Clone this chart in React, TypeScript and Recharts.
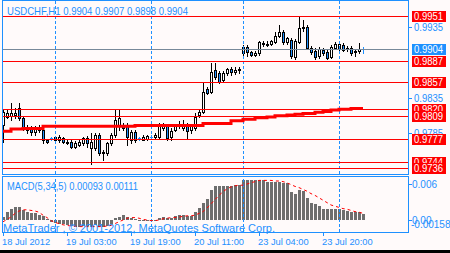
import React from 'react';
import { ComposedChart, Bar, Line, XAxis, YAxis, ReferenceLine } from 'recharts';

const symbolTitle = 'USDCHF,H1 0.9904 0.9907 0.9898 0.9904';
const macdTitle = 'MACD(5,34,5) 0.00093 0.00111';
const copyright = 'MetaTrader , \u00A9 2001-2012, MetaQuotes Software Corp.';

// H1 bars, 18 Jul 2012 11:00 .. 24 Jul 2012 05:00 (bar index)
const opens = [
  0.9797, 0.9808, 0.9810, 0.9811, 0.9821, 0.9807, 0.9790, 0.9794, 0.9787, 0.9790,
  0.9790, 0.9776, 0.9778, 0.9780, 0.9776, 0.9778, 0.9773, 0.9773, 0.9766, 0.9769,
  0.9772, 0.9778, 0.9764, 0.9764, 0.9783, 0.9757, 0.9757, 0.9771, 0.9783, 0.9795,
  0.9797, 0.9797, 0.9776, 0.9787, 0.9778, 0.9776, 0.9777, 0.9780, 0.9780, 0.9780,
  0.9793, 0.9796, 0.9780, 0.9790, 0.9795, 0.9793, 0.9797, 0.9790, 0.9793, 0.9811,
  0.9815, 0.9848, 0.9844, 0.9875, 0.9870, 0.9860, 0.9870, 0.9876, 0.9872, 0.9874,
  0.9899, 0.9907, 0.9900, 0.9896, 0.9898, 0.9913, 0.9910, 0.9911, 0.9914, 0.9923,
  0.9928, 0.9914, 0.9917, 0.9893, 0.9914, 0.9934, 0.9935, 0.9906, 0.9902, 0.9894,
  0.9903, 0.9900, 0.9893, 0.9906, 0.9906, 0.9910, 0.9904, 0.9906, 0.9900, 0.9902,
  0.9904,
];
const highs = [
  0.9818, 0.9818, 0.9828, 0.9821, 0.9828, 0.9808, 0.9797, 0.9796, 0.9796, 0.9797,
  0.9793, 0.9777, 0.9780, 0.9781, 0.9783, 0.9780, 0.9775, 0.9775, 0.9774, 0.9775,
  0.9780, 0.9781, 0.9786, 0.9786, 0.9785, 0.9762, 0.9773, 0.9786, 0.9818, 0.9818,
  0.9800, 0.9800, 0.9790, 0.9790, 0.9780, 0.9782, 0.9783, 0.9782, 0.9786, 0.9800,
  0.9800, 0.9797, 0.9793, 0.9797, 0.9802, 0.9804, 0.9800, 0.9797, 0.9814, 0.9818,
  0.9858, 0.9850, 0.9885, 0.9885, 0.9873, 0.9873, 0.9877, 0.9879, 0.9879, 0.9879,
  0.9910, 0.9910, 0.9902, 0.9902, 0.9916, 0.9916, 0.9915, 0.9917, 0.9928, 0.9938,
  0.9931, 0.9922, 0.9920, 0.9918, 0.9950, 0.9945, 0.9938, 0.9908, 0.9906, 0.9907,
  0.9906, 0.9905, 0.9910, 0.9914, 0.9914, 0.9913, 0.9909, 0.9908, 0.9905, 0.9913,
  0.9907,
];
const lows = [
  0.9773, 0.9807, 0.9804, 0.9807, 0.9804, 0.9790, 0.9786, 0.9783, 0.9783, 0.9787,
  0.9771, 0.9772, 0.9776, 0.9775, 0.9773, 0.9771, 0.9770, 0.9764, 0.9764, 0.9767,
  0.9769, 0.9766, 0.9742, 0.9762, 0.9755, 0.9747, 0.9755, 0.9769, 0.9780, 0.9790,
  0.9790, 0.9769, 0.9771, 0.9773, 0.9776, 0.9775, 0.9776, 0.9778, 0.9778, 0.9778,
  0.9790, 0.9776, 0.9776, 0.9789, 0.9793, 0.9790, 0.9778, 0.9786, 0.9790, 0.9808,
  0.9814, 0.9840, 0.9842, 0.9862, 0.9856, 0.9858, 0.9868, 0.9868, 0.9869, 0.9870,
  0.9896, 0.9894, 0.9894, 0.9894, 0.9896, 0.9909, 0.9908, 0.9910, 0.9913, 0.9922,
  0.9911, 0.9912, 0.9892, 0.9890, 0.9913, 0.9930, 0.9904, 0.9897, 0.9890, 0.9892,
  0.9896, 0.9890, 0.9892, 0.9904, 0.9903, 0.9901, 0.9901, 0.9896, 0.9895, 0.9899,
  0.9898,
];
const closes = [
  0.9815, 0.9814, 0.9814, 0.9814, 0.9807, 0.9794, 0.9794, 0.9787, 0.9793, 0.9794,
  0.9776, 0.9773, 0.9778, 0.9776, 0.9780, 0.9773, 0.9771, 0.9766, 0.9772, 0.9773,
  0.9778, 0.9771, 0.9773, 0.9783, 0.9757, 0.9759, 0.9771, 0.9783, 0.9804, 0.9807,
  0.9793, 0.9780, 0.9787, 0.9776, 0.9778, 0.9780, 0.9781, 0.9780, 0.9783, 0.9795,
  0.9797, 0.9779, 0.9789, 0.9795, 0.9797, 0.9797, 0.9788, 0.9795, 0.9808, 0.9815,
  0.9843, 0.9842, 0.9872, 0.9865, 0.9858, 0.9870, 0.9876, 0.9872, 0.9875, 0.9876,
  0.9907, 0.9900, 0.9896, 0.9899, 0.9914, 0.9911, 0.9912, 0.9915, 0.9923, 0.9928,
  0.9914, 0.9920, 0.9894, 0.9916, 0.9934, 0.9936, 0.9906, 0.9900, 0.9893, 0.9904,
  0.9899, 0.9892, 0.9907, 0.9911, 0.9911, 0.9903, 0.9906, 0.9899, 0.9902, 0.9904,
  0.9904,
];
const maValues = [
  0.9788, 0.9788, 0.9791, 0.9791, 0.9791, 0.9792, 0.9792, 0.9792, 0.9792, 0.9792,
  0.9795, 0.9795, 0.9795, 0.9795, 0.9795, 0.9795, 0.9795, 0.9795, 0.9795, 0.9795,
  0.9795, 0.9795, 0.9795, 0.9795, 0.9795, 0.9795, 0.9795, 0.9795, 0.9795, 0.9795,
  0.9795, 0.9795, 0.9795, 0.9796, 0.9796, 0.9796, 0.9796, 0.9796, 0.9796, 0.9796,
  0.9796, 0.9796, 0.9796, 0.9796, 0.9796, 0.9796, 0.9796, 0.9796, 0.9796, 0.9796,
  0.9799, 0.9799, 0.9799, 0.9799, 0.9799, 0.9799, 0.9799, 0.9803, 0.9803, 0.9803,
  0.9805, 0.9805, 0.9805, 0.9807, 0.9807, 0.9807, 0.9808, 0.9808, 0.9810, 0.9810,
  0.9810, 0.9811, 0.9811, 0.9812, 0.9812, 0.9813, 0.9813, 0.9813, 0.9815, 0.9815,
  0.9816, 0.9816, 0.9818, 0.9818, 0.9819, 0.9819, 0.9819, 0.9820, 0.9820, 0.9820,
  0.9820,
];
const macdHist = [
  0.00045, 0.0014, 0.0018, 0.0021, 0.0022, 0.0017, 0.0014, 0.0012, 0.0011, 0.0008,
  0.0006, 0.0001, -0.0003, -0.0005, -0.0006, -0.0007, -0.0008, -0.0010, -0.0011, -0.0011,
  -0.0010, -0.0010, -0.0011, -0.0009, -0.0011, -0.0012, -0.0010, -0.0007, 0.0003, 0.0005,
  0.0008, 0.0005, 0.0004, 0.0001, -0.0001, -0.0002, -0.0002, -0.0002, -0.0001, 0.0004,
  0.0005, 0.0004, 0.0004, 0.0006, 0.0008, 0.0008, 0.0006, 0.0007, 0.0014, 0.0020,
  0.0028, 0.0035, 0.0050, 0.0056, 0.0056, 0.0056, 0.0057, 0.0057, 0.0058, 0.0059,
  0.0066, 0.0066, 0.0066, 0.0066, 0.0066, 0.0066, 0.0064, 0.0064, 0.0064, 0.0064,
  0.0061, 0.0061, 0.0047, 0.0044, 0.0050, 0.0049, 0.0036, 0.0028, 0.0026, 0.0023,
  0.0019, 0.0018, 0.0019, 0.0018, 0.0018, 0.0017, 0.0015, 0.0014, 0.0014, 0.0013,
  0.00093,
];
const macdSignal = [
  -0.0003, 0.0001, 0.0005, 0.0011, 0.0015, 0.0017, 0.0017, 0.0016, 0.0015, 0.0013,
  0.0008, 0.0004, -0.0001, -0.0004, -0.0006, -0.0008, -0.0009, -0.0010, -0.0010, -0.0011,
  -0.0011, -0.0011, -0.0011, -0.0011, -0.0011, -0.0011, -0.0010, -0.0009, -0.0006, -0.0003,
  0.0000, 0.0003, 0.0004, 0.0004, 0.0003, 0.0001, 0.0000, -0.0001, -0.0001, 0.0000,
  0.0002, 0.0003, 0.0004, 0.0004, 0.0005, 0.0006, 0.0007, 0.0007, 0.0008, 0.0011,
  0.0014, 0.0020, 0.0027, 0.0034, 0.0041, 0.0047, 0.0052, 0.0055, 0.0057, 0.0058,
  0.0058, 0.0060, 0.0062, 0.0064, 0.0066, 0.0066, 0.0066, 0.0066, 0.0065, 0.0065,
  0.0064, 0.0062, 0.0059, 0.0056, 0.0054, 0.0051, 0.0048, 0.0044, 0.0041, 0.0037,
  0.0033, 0.0029, 0.0025, 0.0023, 0.0021, 0.0019, 0.0018, 0.0016, 0.0014, 0.0013,
  0.00111,
];

const levelPrices = [0.9951, 0.9887, 0.9857, 0.9820, 0.9809, 0.9777, 0.9744, 0.9736];
const bidPrice = 0.9904;
const priceGridTicks = [0.9935, 0.9835, 0.9785];
const macdTicks = [0.006, 0, -0.00158];
const macdTickLabels = ['0.006', '0.00', '-0.00158'];
const timeTickBars = [0, 16, 32, 48, 64, 80];
const timeTickLabels = ['18 Jul 2012', '19 Jul 03:00', '19 Jul 19:00', '20 Jul 11:00', '23 Jul 04:00', '23 Jul 20:00'];
const daySeparators = [13, 37, 60, 84];

const BLUE = '#1E90FF';
const RED = '#FF0000';
const SNOW = '#FFFAFA';
const FONT = '"Liberation Sans", Arial, sans-serif';
const X_DOMAIN: [number, number] = [-0.25, 101.25];
const PRICE_DOMAIN: [number, number] = [0.972752, 0.997222];
const MACD_DOMAIN: [number, number] = [-0.002, 0.0073333];

function CrispLine(props: any) {
  const { x1, y1, x2, y2, stroke, strokeDasharray } = props;
  if (Math.abs(x1 - x2) < 0.01) {
    const x = Math.round(x1) + 0.5;
    return <line x1={x} x2={x} y1={y1} y2={y2} stroke={stroke} strokeDasharray={strokeDasharray} />;
  }
  const y = Math.round(y1) + 0.5;
  return <line x1={x1} x2={x2} y1={y} y2={y} stroke={stroke} strokeDasharray={strokeDasharray} />;
}

function Candle(props: any) {
  const { x, y, width, height, payload } = props;
  if (!payload || x == null) return null;
  const { open, close, high, low } = payload;
  const top = Math.min(y, y + height);
  const bot = Math.max(y, y + height);
  const span = high - low || 1e-9;
  const toY = (v: number) => top + ((high - v) / span) * (bot - top);
  const c = Math.round(x + width / 2);
  const rT = Math.round(top);
  const rB = Math.round(bot);
  if (open === close) {
    const yo = Math.round(toY(open)) + 0.5;
    return (
      <g>
        <line x1={c + 0.5} x2={c + 0.5} y1={rT} y2={rB + 1} stroke={BLUE} />
        <line x1={c - 1} x2={c + 2} y1={yo} y2={yo} stroke={BLUE} />
      </g>
    );
  }
  const bull = close > open;
  const yO = Math.round(toY(open));
  const yC = Math.round(toY(close));
  const bT = Math.min(yO, yC) + 0.5;
  const bB = Math.max(yO, yC) + 0.5;
  return (
    <g>
      <line x1={c + 0.5} x2={c + 0.5} y1={rT} y2={rB + 1} stroke="#000" />
      <rect x={c - 0.5} y={bT} width={2} height={Math.max(bB - bT, 1)} fill={bull ? '#FFFFFF' : BLUE} stroke="#000" />
    </g>
  );
}

function HistBar(props: any) {
  const { x, y, width, height } = props;
  if (x == null || y == null) return null;
  const c = Math.round(x + width / 2);
  const t = Math.round(Math.min(y, y + height));
  const b = Math.round(Math.max(y, y + height));
  if (b - t < 1) return null;
  return <rect x={c - 1} y={t} width={3} height={b - t} fill="#6E6E6E" />;
}

function PriceAxisTick(props: any) {
  const { x, y, payload } = props;
  const v = payload.value;
  const yy = Math.round(y);
  if (priceGridTicks.indexOf(v) >= 0) {
    return (
      <g>
        <line x1={x} x2={x + 4} y1={yy + 0.5} y2={yy + 0.5} stroke={BLUE} />
        <text x={x + 6} y={yy + 4} fill={BLUE} fontSize={10} fontFamily={FONT} textLength={29} lengthAdjust="spacingAndGlyphs">
          {v.toFixed(4)}
        </text>
      </g>
    );
  }
  const isBid = v === bidPrice;
  return (
    <g>
      <rect x={x + 4} y={yy - 5} width={34} height={11} fill={isBid ? BLUE : RED} />
      <text x={x + 6} y={yy + 4} fill="#FFFFFF" fontSize={10} fontFamily={FONT} textLength={29} lengthAdjust="spacingAndGlyphs">
        {v.toFixed(4)}
      </text>
    </g>
  );
}

function MacdAxisTick(props: any) {
  const { x, y, payload } = props;
  const v = payload.value;
  const idx = macdTicks.indexOf(v);
  const label = macdTickLabels[idx] ?? '';
  const yy = Math.round(y);
  if (v < 0) {
    return (
      <text x={x + 3} y={yy - 1} fill={BLUE} fontSize={10} fontFamily={FONT}>
        {label}
      </text>
    );
  }
  return (
    <g>
      <line x1={x} x2={x + 4} y1={yy + 0.5} y2={yy + 0.5} stroke={BLUE} />
      <text x={x + 4} y={yy + 4} fill={BLUE} fontSize={10} fontFamily={FONT}>
        {label}
      </text>
    </g>
  );
}

function TimeTick(props: any) {
  const { x, y, payload } = props;
  const idx = timeTickBars.indexOf(payload.value);
  const label = timeTickLabels[idx] ?? '';
  const xx = Math.round(x);
  return (
    <g>
      <line x1={xx + 0.5} x2={xx + 0.5} y1={y} y2={y + 4} stroke={BLUE} />
      <text x={xx - 1} y={y + 13} fill={BLUE} fontSize={9.3} fontFamily={FONT}>
        {label}
      </text>
    </g>
  );
}

export default function App() {
  const candleData = opens.map((o, i) => ({
    i,
    open: o,
    high: highs[i],
    low: lows[i],
    close: closes[i],
    ma: maValues[i],
  }));
  const macdData = macdHist.map((m, i) => ({ i, macd: m, signal: macdSignal[i] }));

  return (
    <div style={{ position: 'fixed', left: 0, top: 0, width: 450, height: 253, background: SNOW, overflow: 'hidden' }}>
      <div style={{ position: 'absolute', left: 0, top: 0 }}>
        <ComposedChart width={450} height={174} data={candleData} margin={{ top: 1, right: 0, bottom: 0, left: 2 }}>
          <XAxis type="number" dataKey="i" domain={X_DOMAIN} hide allowDataOverflow />
          <YAxis
            type="number"
            orientation="right"
            width={42}
            domain={PRICE_DOMAIN}
            allowDataOverflow
            ticks={[...priceGridTicks, ...levelPrices, bidPrice]}
            interval={0}
            tick={(p: any) => <PriceAxisTick {...p} />}
            tickLine={false}
            axisLine={false}
            tickSize={0}
            tickMargin={0}
          />
          {daySeparators.map((d) => (
            <ReferenceLine key={'sep' + d} x={d} stroke={BLUE} strokeDasharray="3 2" shape={(p: any) => <CrispLine {...p} />} />
          ))}
          <ReferenceLine y={bidPrice} stroke="#778899" shape={(p: any) => <CrispLine {...p} />} />
          {levelPrices.map((p) => (
            <ReferenceLine key={'lvl' + p} y={p} stroke={RED} shape={(pp: any) => <CrispLine {...pp} />} />
          ))}
          <Bar
            dataKey={(d: any) => [d.low, d.high]}
            barSize={3}
            shape={(p: any) => <Candle {...p} />}
            isAnimationActive={false}
          />
          <Line dataKey="ma" type="stepAfter" stroke={RED} strokeWidth={3} dot={false} isAnimationActive={false} />
        </ComposedChart>
      </div>
      <div style={{ position: 'absolute', left: 0, top: 175 }}>
        <ComposedChart width={450} height={78} data={macdData} margin={{ top: 1, right: 0, bottom: 0, left: 2 }}>
          <XAxis
            type="number"
            dataKey="i"
            domain={X_DOMAIN}
            allowDataOverflow
            ticks={timeTickBars}
            interval={0}
            height={21}
            tick={(p: any) => <TimeTick {...p} />}
            tickLine={false}
            axisLine={false}
            tickSize={0}
            tickMargin={0}
          />
          <YAxis
            type="number"
            orientation="right"
            width={42}
            domain={MACD_DOMAIN}
            allowDataOverflow
            ticks={macdTicks}
            interval={0}
            tick={(p: any) => <MacdAxisTick {...p} />}
            tickLine={false}
            axisLine={false}
            tickSize={0}
            tickMargin={0}
          />
          {daySeparators.map((d) => (
            <ReferenceLine key={'msep' + d} x={d} stroke={BLUE} strokeDasharray="3 2" shape={(p: any) => <CrispLine {...p} />} />
          ))}
          <Bar dataKey="macd" barSize={3} fill="#6E6E6E" shape={(p: any) => <HistBar {...p} />} isAnimationActive={false} />
          <Line dataKey="signal" type="linear" stroke={RED} strokeDasharray="3 3" dot={false} isAnimationActive={false} />
        </ComposedChart>
      </div>
      <svg width={450} height={253} style={{ position: 'absolute', left: 0, top: 0, pointerEvents: 'none' }}>
        <rect x={2.5} y={0.5} width={406} height={174} fill="none" stroke={BLUE} />
        <rect x={2.5} y={176.5} width={406} height={56} fill="none" stroke={BLUE} />
        <text x={7} y={15} fill={BLUE} fontSize={10.5} fontFamily={FONT} textLength={181} lengthAdjust="spacingAndGlyphs">
          {symbolTitle}
        </text>
        <text x={7} y={190} fill={BLUE} fontSize={10} fontFamily={FONT} textLength={131} lengthAdjust="spacingAndGlyphs">
          {macdTitle}
        </text>
        <text x={3} y={232} fill={BLUE} fontSize={11.5} fontFamily={FONT} textLength={272} lengthAdjust="spacingAndGlyphs">
          {copyright}
        </text>
      </svg>
      <div style={{ position: 'absolute', left: 0, top: 250, width: 450, height: 3, background: '#000' }} />
    </div>
  );
}
